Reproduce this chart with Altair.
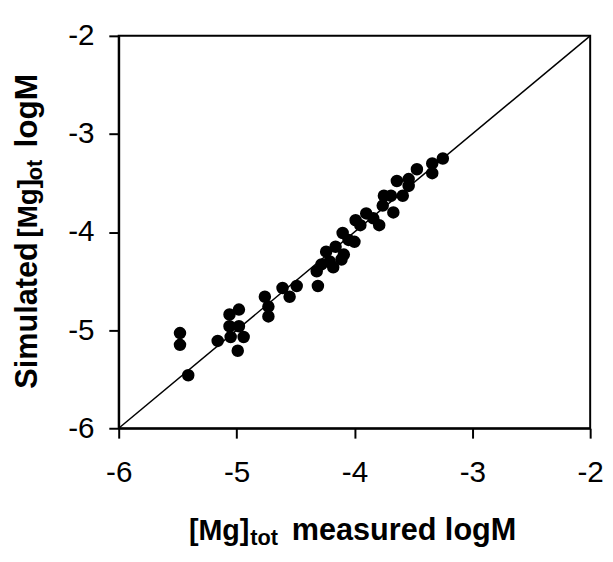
import altair as alt
import pandas as pd

measured = [-5.48, -5.48, -5.41, -5.16, -5.06, -4.98, -5.06, -4.98, -5.05, -4.94,
            -4.99, -4.76, -4.73, -4.73, -4.61, -4.55, -4.49, -4.31, -4.32, -4.28,
            -4.24, -4.18, -4.21, -4.11, -4.09, -4.10, -4.00, -3.99, -3.90, -3.79,
            -3.76, -3.75, -3.67, -3.69, -3.64, -3.59, -3.54, -3.54, -3.47, -3.34,
            -3.34, -3.25, -4.16, -4.05, -3.95, -3.84]
simulated = [-5.03, -5.15, -5.46, -5.11, -4.84, -4.79, -4.96, -4.96, -5.07, -5.07,
             -5.21, -4.66, -4.76, -4.86, -4.57, -4.66, -4.55, -4.55, -4.40, -4.33,
             -4.20, -4.36, -4.30, -4.28, -4.23, -4.01, -4.10, -3.88, -3.81, -3.93,
             -3.73, -3.63, -3.80, -3.63, -3.48, -3.63, -3.53, -3.46, -3.36, -3.40,
             -3.30, -3.25, -4.15, -4.08, -3.93, -3.86]
ticks = [-6, -5, -4, -3, -2]
diag = [-6, -2]

df = pd.DataFrame({"measured": measured, "simulated": simulated})
ddf = pd.DataFrame({"measured": diag, "simulated": diag})
one = pd.DataFrame({"k": [0]})

FONT = "Liberation Sans"
W, H = 477, 397

xs = alt.Scale(domain=[-6, -2], nice=False, zero=False)
ys = alt.Scale(domain=[-6, -2], nice=False, zero=False)

common = dict(values=ticks, title=None, grid=False, tickSize=10, tickWidth=2,
              domainWidth=2, domainColor="black", tickColor="black",
              labelFontSize=30, labelFont=FONT, labelColor="black",
              labelFlush=False, labelExpr="'' + datum.value")
xax = alt.Axis(labelPadding=20, **common)
yax = alt.Axis(labelPadding=15, **common)

points = alt.Chart(df).mark_circle(size=160, color="black", opacity=1).encode(
    x=alt.X("measured:Q", scale=xs, axis=xax),
    y=alt.Y("simulated:Q", scale=ys, axis=yax),
)

line = alt.Chart(ddf).mark_line(color="black", strokeWidth=1.5).encode(
    x=alt.X("measured:Q", scale=xs),
    y=alt.Y("simulated:Q", scale=ys),
)

def txt(s, x, y, size, angle=0):
    return alt.Chart(one).mark_text(
        font=FONT, fontWeight="bold", fontSize=size, align="left",
        baseline="alphabetic", angle=angle, color="black"
    ).encode(x=alt.value(x), y=alt.value(y), text=alt.value(s))

titles = [
    txt("[Mg]", 71, 510, 29),
    txt("tot", 133, 515, 22),
    txt("measured logM", 175, 510, 31),
    txt("Simulated", -83, 357, 31, 270),
    txt("[Mg]", -83, 204, 28, 270),
    txt("ot", -78, 146, 22, 270),
    txt("logM", -83, 113, 32, 270),
]

chart = alt.layer(line, points, *titles).properties(
    width=W, height=H,
    autosize=alt.AutoSizeParams(type="none"),
    padding={"left": 112, "top": 25, "right": 15, "bottom": 120},
).configure_view(stroke="black", strokeWidth=2)

chart.save("out.html", embed_options={"renderer": "svg", "actions": False})
